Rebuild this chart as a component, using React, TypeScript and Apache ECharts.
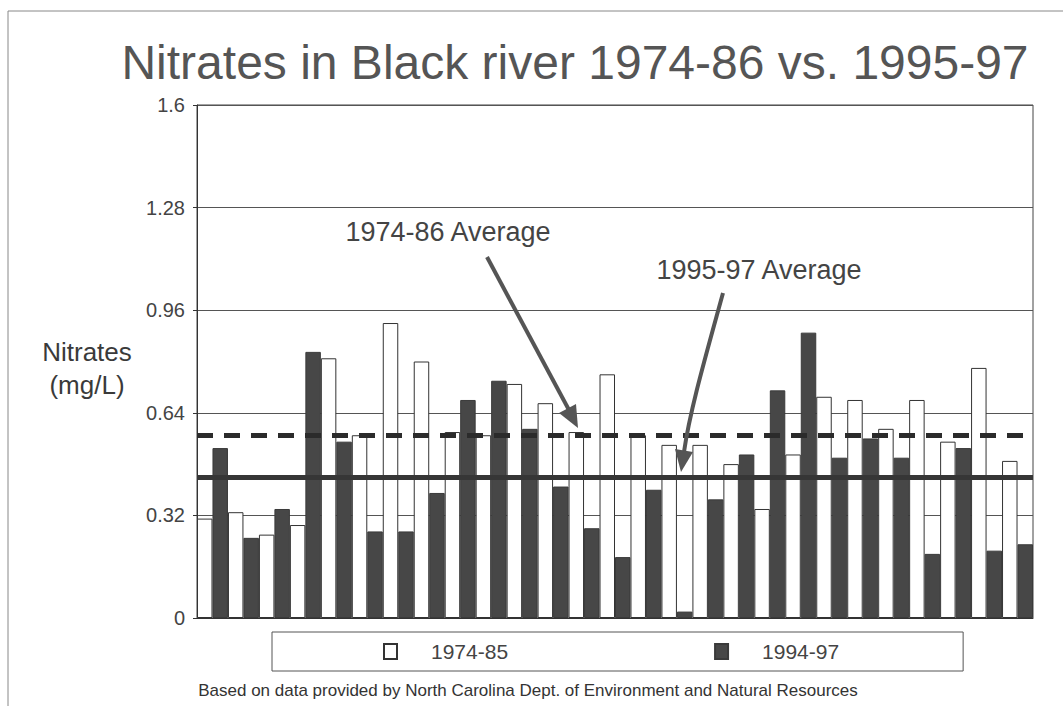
import React, { useEffect, useRef } from "react";
import * as echarts from "echarts";

// Sampling sites along the river (unlabelled on the axis)
const sites = [
  "1", "2", "3", "4", "5", "6", "7", "8", "9", "10", "11", "12", "13", "14",
  "15", "16", "17", "18", "19", "20", "21", "22", "23", "24", "25", "26", "27",
];

// Mean nitrate concentration (mg/L) per site
const early = [
  0.31, 0.33, 0.26, 0.29, 0.81, 0.57, 0.92, 0.8, 0.58, 0.57, 0.73, 0.67, 0.58, 0.76,
  0.57, 0.54, 0.54, 0.48, 0.34, 0.51, 0.69, 0.68, 0.59, 0.68, 0.55, 0.78, 0.49,
];
const recent = [
  0.53, 0.25, 0.34, 0.83, 0.55, 0.27, 0.27, 0.39, 0.68, 0.74, 0.59, 0.41, 0.28, 0.19,
  0.4, 0.02, 0.37, 0.51, 0.71, 0.89, 0.5, 0.56, 0.5, 0.2, 0.53, 0.21, 0.23,
];

// Period averages drawn as reference lines
const avgEarly = 0.57;
const avgRecent = 0.44;

const yMin = 0;
const yMax = 1.6;
const yStep = 0.32;

const seriesNames = ["1974-85", "1994-97"];
const titleText = "Nitrates in Black river 1974-86 vs. 1995-97";
const sourceText =
  "Based on data provided by North Carolina Dept. of Environment and Natural Resources";

const FONT = '"Liberation Sans", Arial, Helvetica, sans-serif';

function txt(x: number, y: number, text: string, size: number, fill: string) {
  return {
    type: "text",
    x,
    y,
    silent: true,
    style: {
      text,
      fontSize: size,
      fontFamily: FONT,
      fill,
      align: "center",
      verticalAlign: "middle",
      textAlign: "center",
      textVerticalAlign: "middle",
    },
  };
}

export default function App() {
  const ref = useRef<HTMLDivElement>(null);

  useEffect(() => {
    if (!ref.current) return;
    const chart = echarts.init(ref.current, undefined, { renderer: "svg" });

    const arrowColor = "#555";

    chart.setOption({
      animation: false,
      backgroundColor: "#fff",
      textStyle: { fontFamily: FONT },
      grid: {
        left: 197,
        right: 30,
        top: 105,
        bottom: 88,
        show: true,
        borderColor: "#444",
        borderWidth: 1,
        backgroundColor: "transparent",
      },
      xAxis: {
        type: "category",
        data: sites,
        axisLabel: { show: false },
        axisTick: { show: false },
        axisLine: { lineStyle: { color: "#333", width: 1 } },
      },
      yAxis: {
        type: "value",
        min: yMin,
        max: yMax,
        interval: yStep,
        axisLine: { show: true, lineStyle: { color: "#333" } },
        axisTick: { show: true, length: 4, lineStyle: { color: "#333" } },
        axisLabel: {
          fontSize: 20,
          color: "#444",
          margin: 12,
          formatter: (v: number) => String(+v.toFixed(2)),
        },
        splitLine: { lineStyle: { color: "#555", width: 1 } },
      },
      legend: {
        left: 272,
        top: 632,
        orient: "horizontal",
        padding: [9, 124, 9, 111],
        borderColor: "#555",
        borderWidth: 1,
        itemGap: 206,
        itemWidth: 13,
        itemHeight: 15,
        icon: "rect",
        selectedMode: false,
        data: seriesNames,
        textStyle: {
          fontSize: 21,
          color: "#444",
          fontFamily: FONT,
          padding: [0, 0, 0, 29],
        },
      },
      series: [
        {
          name: seriesNames[0],
          type: "bar",
          data: early,
          barGap: "0%",
          barCategoryGap: "0%",
          itemStyle: { color: "#fff", borderColor: "#333", borderWidth: 1 },
        },
        {
          name: seriesNames[1],
          type: "bar",
          data: recent,
          barGap: "0%",
          barCategoryGap: "0%",
          itemStyle: { color: "#474747", borderColor: "#3a3a3a", borderWidth: 1 },
          markLine: {
            silent: true,
            symbol: ["none", "none"],
            label: { show: false },
            z: 10,
            data: [
              {
                yAxis: avgEarly,
                lineStyle: { type: [16, 11], width: 5, color: "#2b2b2b" },
              },
              {
                yAxis: avgRecent,
                lineStyle: { type: "solid", width: 5, color: "#363636" },
              },
            ],
          },
        },
      ],
      graphic: [
        {
          type: "polyline",
          silent: true,
          shape: { points: [[8, 706], [8, 11], [1063, 11]] },
          style: { stroke: "#888", lineWidth: 1, fill: null },
        },
        txt(575, 62, titleText, 48, "#555"),
        txt(87, 352, "Nitrates", 26, "#3a3a3a"),
        txt(87, 385, "(mg/L)", 26, "#3a3a3a"),
        txt(448, 232, "1974-86 Average", 27, "#444"),
        txt(759, 270, "1995-97 Average", 27, "#444"),
        txt(528, 690, sourceText, 17, "#333"),
        // arrow to the 1974-86 average
        {
          type: "line",
          silent: true,
          z: 20,
          shape: { x1: 487, y1: 257, x2: 569, y2: 410 },
          style: { stroke: arrowColor, lineWidth: 4 },
        },
        {
          type: "polygon",
          silent: true,
          z: 20,
          shape: { points: [[578, 428], [559, 413], [576, 404]] },
          style: { fill: arrowColor },
        },
        // arrow to the 1995-97 average
        {
          type: "bezierCurve",
          silent: true,
          z: 20,
          shape: { x1: 723, y1: 293, cpx1: 706, cpy1: 355, cpx2: 690, cpy2: 410, x2: 684, y2: 452 },
          style: { stroke: arrowColor, lineWidth: 4, fill: null },
        },
        {
          type: "polygon",
          silent: true,
          z: 20,
          shape: { points: [[681, 472], [675, 449], [693, 452]] },
          style: { fill: arrowColor },
        },
      ],
    });

    return () => chart.dispose();
  }, []);

  return (
    <div
      ref={ref}
      style={{ position: "absolute", left: 0, top: 0, width: 1063, height: 706 }}
    />
  );
}
